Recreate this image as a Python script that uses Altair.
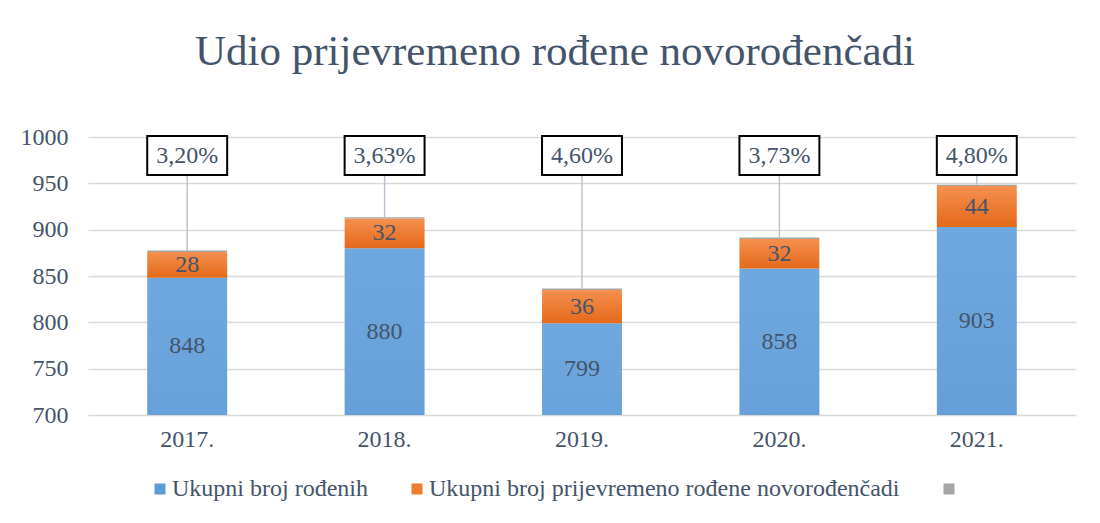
import altair as alt
import pandas as pd

years = ["2017.", "2018.", "2019.", "2020.", "2021."]
ukupno = [848, 880, 799, 858, 903]
prijevremeno = [28, 32, 36, 32, 44]
treca = [1.5, 1.5, 1.5, 1.5, 1.5]
postotak = ["3,20%", "3,63%", "4,60%", "3,73%", "4,80%"]

series = ["Ukupni broj rođenih", "Ukupni broj prijevremeno rođene novorođenčadi", " "]
series_colors = ["#5b9bd5", "#ed7d31", "#a5a5a5"]

TXT = "#44546a"
FONT = "Liberation Serif"
FS = 24

rows = []
for i, y in enumerate(years):
    b = ukupno[i]
    o = prijevremeno[i]
    g = treca[i]
    rows.append(dict(
        year=y,
        b0=0, b1=b, bmid=(700 + b) / 2, blab=str(b),
        o0=b, o1=b + o, omid=b + o / 2, olab=str(o),
        g0=b + o, g1=b + o + g,
        pct=postotak[i],
        boxlo=959, boxhi=1001, boxmid=980,
        series=series[i % 3],
    ))
df = pd.DataFrame(rows)

x = alt.X("year:N", title=None, sort=years,
          scale=alt.Scale(paddingInner=0.595, paddingOuter=0.3),
          axis=alt.Axis(labelAngle=0, labelFont=FONT, labelFontSize=FS, labelColor=TXT,
                        ticks=False, domain=False, labelPadding=12))
yscale = alt.Scale(domain=[700, 1000], nice=False, zero=False)
yaxis = alt.Axis(values=[700, 750, 800, 850, 900, 950, 1000], format="d", labelFont=FONT,
                 labelFontSize=FS, labelColor=TXT, ticks=False, domain=False, labelPadding=20,
                 gridColor="#d9d9d9", gridWidth=1.3)

base = alt.Chart(df)

blue_grad = alt.Gradient(gradient="linear", x1=0, x2=0, y1=0, y2=1,
                         stops=[alt.GradientStop(color="#6fa8de", offset=0),
                                alt.GradientStop(color="#4282c8", offset=1)])
orange_grad = alt.Gradient(gradient="linear", x1=0, x2=0, y1=0, y2=1,
                           stops=[alt.GradientStop(color="#f5904f", offset=0),
                                  alt.GradientStop(color="#e4691a", offset=1)])

blue = base.mark_bar(fill=blue_grad, clip=True).encode(
    x=x, y=alt.Y("b0:Q", scale=yscale, axis=yaxis, title=None), y2="b1:Q")
orange = base.mark_bar(fill=orange_grad).encode(x=x, y="o0:Q", y2="o1:Q")
gray = base.mark_bar(fill="#a5a5a5").encode(x=x, y="g0:Q", y2="g1:Q")

blue_txt = base.mark_text(font=FONT, fontSize=FS, color=TXT).encode(x=x, y="bmid:Q", text="blab:N")
orange_txt = base.mark_text(font=FONT, fontSize=FS, color=TXT).encode(x=x, y="omid:Q", text="olab:N")

leader = base.mark_rule(color="#b9c4d3", strokeWidth=1.5).encode(x=x, y="boxlo:Q", y2="g1:Q")
box = base.mark_bar(fill="white", stroke="black", strokeWidth=2).encode(x=x, y="boxlo:Q", y2="boxhi:Q")
box_txt = base.mark_text(font=FONT, fontSize=FS, color=TXT).encode(x=x, y="boxmid:Q", text="pct:N")

legend_layer = base.mark_square(opacity=0, size=1).encode(
    x=x, y="bmid:Q",
    color=alt.Color("series:N", scale=alt.Scale(domain=series, range=series_colors),
                    legend=alt.Legend(title=None, orient="none", direction="horizontal",
                                      legendX=60, legendY=340,
                                      symbolType="square", symbolSize=121, symbolOpacity=1,
                                      symbolStrokeWidth=0, labelFont=FONT, labelFontSize=FS,
                                      labelColor=TXT, columnPadding=37, labelOffset=0,
                                      labelLimit=700)))

chart = alt.layer(blue, orange, gray, blue_txt, orange_txt, leader, box, box_txt, legend_layer).properties(
    width=988, height=278,
    padding={"left": 12, "top": 23, "right": 5, "bottom": 5},
    title=alt.Title("Udio prijevremeno rođene novorođenčadi", font=FONT, fontSize=43,
                    fontWeight="normal", color=TXT, anchor="middle", offset=51, dx=-27),
).configure_view(stroke=None)

chart.save("out.html", embed_options={"renderer": "svg", "actions": False})
